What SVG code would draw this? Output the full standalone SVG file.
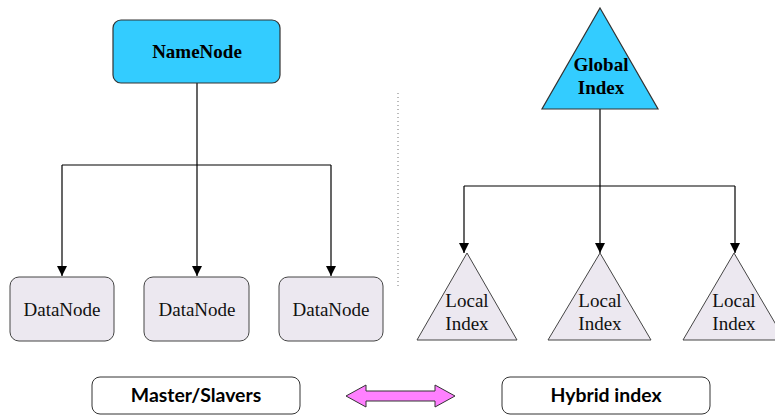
<svg xmlns="http://www.w3.org/2000/svg" width="775" height="417" viewBox="0 0 775 417">
  <defs>
    <marker id="arrow" viewBox="0 0 10 10" refX="10" refY="5" markerWidth="10" markerHeight="10" markerUnits="userSpaceOnUse" orient="auto">
      <path d="M0,0 L10,5 L0,10 z" fill="#000"/>
    </marker>
    <style>
      .head { fill: #33CCFF; stroke: #333; stroke-width: 1.2; }
      .leaf { fill: #ECE8F0; stroke: #444; stroke-width: 1; }
      .wire { fill: none; stroke: #000; stroke-width: 1.2; }
      .bold { font-family: "Liberation Serif", "Times New Roman", Tinos, "Nimbus Roman", serif; font-weight: bold; font-size: 19px; fill: #000; text-anchor: middle; }
      .plain { font-family: "Liberation Serif", "Times New Roman", Tinos, "Nimbus Roman", serif; font-size: 19px; fill: #111; text-anchor: middle; }
      .label { fill: #fff; stroke: #333; stroke-width: 1; }
      .caption { font-family: Lato, "Liberation Sans", sans-serif; font-weight: bold; font-size: 19.4px; fill: #000; text-anchor: middle; }
    </style>
  </defs>

  <!-- connectors -->
  <g id="connectors">
    <path class="wire" d="M197,83 V165 M62,165 H331"/>
    <path class="wire" d="M62,165 V276" marker-end="url(#arrow)"/>
    <path class="wire" d="M197,165 V276" marker-end="url(#arrow)"/>
    <path class="wire" d="M331,165 V276" marker-end="url(#arrow)"/>
    <path class="wire" d="M600,109 V186 M464,186 H735"/>
    <path class="wire" d="M464,186 V253" marker-end="url(#arrow)"/>
    <path class="wire" d="M600,186 V253" marker-end="url(#arrow)"/>
    <path class="wire" d="M735,186 V253" marker-end="url(#arrow)"/>
    <line x1="398" y1="93" x2="398" y2="289" stroke="#777" stroke-width="1" stroke-dasharray="1,3"/>
  </g>

  <g id="namenode">
    <rect class="head" x="113" y="20" width="167" height="63" rx="8"/>
    <text class="bold" x="197" y="58">NameNode</text>
  </g>

  <g id="datanode1">
    <rect class="leaf" x="10" y="277" width="104" height="64" rx="9"/>
    <text class="plain" x="62" y="316">DataNode</text>
  </g>
  <g id="datanode2">
    <rect class="leaf" x="144" y="277" width="105" height="64" rx="9"/>
    <text class="plain" x="197" y="316">DataNode</text>
  </g>
  <g id="datanode3">
    <rect class="leaf" x="279" y="277" width="104" height="64" rx="9"/>
    <text class="plain" x="331" y="316">DataNode</text>
  </g>

  <g id="global-index">
    <polygon class="head" points="600,8 658,109 542,109"/>
    <text class="bold" x="601" y="71">Global</text>
    <text class="bold" x="601" y="94">Index</text>
  </g>

  <g id="local-index1">
    <polygon class="leaf" points="467,253 517,340 417,340"/>
    <text class="plain" x="467" y="307">Local</text>
    <text class="plain" x="467" y="330">Index</text>
  </g>
  <g id="local-index2">
    <polygon class="leaf" points="600,253 651,340 548,340"/>
    <text class="plain" x="600" y="307">Local</text>
    <text class="plain" x="600" y="330">Index</text>
  </g>
  <g id="local-index3">
    <polygon class="leaf" points="734,253 785,340 683,340"/>
    <text class="plain" x="734" y="307">Local</text>
    <text class="plain" x="734" y="330">Index</text>
  </g>

  <g id="master-slavers">
    <rect class="label" x="92" y="377" width="208" height="37" rx="8"/>
    <text class="caption" x="196" y="402">Master/Slavers</text>
  </g>

  <g id="exchange-arrow">
    <polygon points="346,396 366,385 366,391 435,391 435,385 455,396 435,407 435,401 366,401 366,407" fill="#FF80FF" stroke="#333" stroke-width="1"/>
  </g>

  <g id="hybrid-index">
    <rect class="label" x="502" y="377" width="208" height="37" rx="8"/>
    <text class="caption" x="606" y="402">Hybrid index</text>
  </g>
</svg>
